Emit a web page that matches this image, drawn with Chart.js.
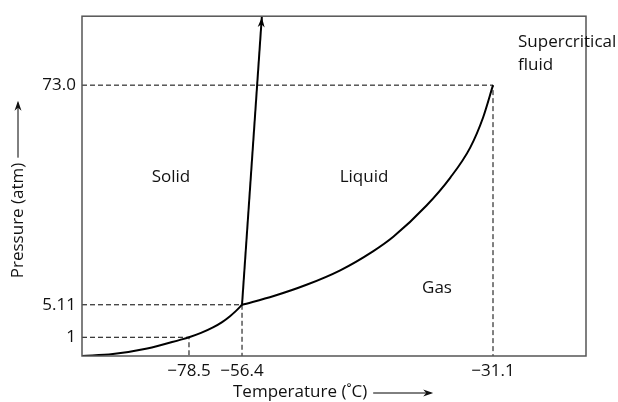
<!DOCTYPE html>
<html>
<head>
<meta charset="utf-8">
<title>Phase diagram of CO₂</title>
<script src="https://cdn.jsdelivr.net/npm/chart.js@4.4.1/dist/chart.umd.min.js"></script>
<style>
  html, body { margin: 0; padding: 0; background: #fff; }
  #wrap { width: 618px; height: 402px; }
</style>
</head>
<body>
<div id="wrap"><canvas id="phase"></canvas></div>
<script>
// axis ends (schematic diagram, not to scale)
const tempRange = [-100, -20];
const pressureRange = [0, 95];

const tempTicks = [-78.5, -56.4, -31.1];
const tempTickLabels = ['−78.5', '−56.4', '−31.1'];
const pressureTicks = [1, 5.11, 73.0];
const pressureTickLabels = ['1', '5.11', '73.0'];

// solid / gas boundary
const sublimationTemp = [-100, -93.8, -86.9, -80.3, -78.5, -73.5, -68.5, -64.7, -61.4, -58.9, -56.4];
const sublimationPressure = [0, 0.105, 0.4, 0.863, 1, 1.55, 2.25, 2.92, 3.67, 4.34, 5.11];

// solid / liquid boundary
const meltingTemp = [-56.4, -54.4];
const meltingPressure = [5.11, 95];

// liquid / gas boundary up to the critical point
const vaporTemp = [-56.4, -53.2, -49.9, -46.5, -43.2, -41.15, -37.8, -35.4, -33.4, -32.1, -31.1];
const vaporPressure = [5.11, 7.82, 11.29, 15.77, 21.64, 26.15, 35.8, 44.44, 53.7, 63.01, 73.0];

// the axis is stretched piecewise: each tick value sits at a fixed fraction of the axis
const axisStops = {
  x: { values: [tempRange[0], ...tempTicks, tempRange[1]], at: [0, 0.2123, 0.3175, 0.8155, 1] },
  y: { values: [pressureRange[0], ...pressureTicks, pressureRange[1]], at: [0, 0.0551, 0.1507, 0.7971, 1] },
};

const lerpStops = (from, to, v) => {
  if (v <= from[0]) return to[0];
  for (let i = 1; i < from.length; i++) {
    if (v <= from[i]) {
      const t = (v - from[i - 1]) / (from[i] - from[i - 1]);
      return to[i - 1] + t * (to[i] - to[i - 1]);
    }
  }
  return to[to.length - 1];
};

class PiecewiseScale extends Chart.LinearScale {
  getPixelForValue(value) {
    const s = axisStops[this.id];
    return this.getPixelForDecimal(lerpStops(s.values, s.at, value));
  }
  getValueForPixel(pixel) {
    const s = axisStops[this.id];
    return lerpStops(s.at, s.values, this.getDecimalForPixel(pixel));
  }
}
PiecewiseScale.id = 'piecewise';
PiecewiseScale.defaults = {};
Chart.register(PiecewiseScale);

const toPoints = (xs, ys) => xs.map((x, i) => ({ x, y: ys[i] }));

const FONT = '"Open Sans", "Noto Sans", sans-serif';
const INK = '#000';

const curve = (xs, ys) => ({
  data: toPoints(xs, ys),
  borderColor: INK,
  borderWidth: 2,
  pointRadius: 0,
  cubicInterpolationMode: 'monotone',
  order: 0,
});

const guide = (pts) => ({
  data: pts,
  borderColor: INK,
  borderWidth: 1,
  borderDash: [5, 3],
  pointRadius: 0,
  tension: 0,
  order: 1,
});

const arrowHead = (ctx, x0, y0, x1, y1, len, half) => {
  const a = Math.atan2(y1 - y0, x1 - x0);
  ctx.save();
  ctx.translate(x1, y1);
  ctx.rotate(a);
  ctx.beginPath();
  ctx.moveTo(0, 0);
  ctx.lineTo(-len, -half);
  ctx.lineTo(-len * 0.7, 0);
  ctx.lineTo(-len, half);
  ctx.closePath();
  ctx.fill();
  ctx.restore();
};

const diagramDecor = {
  id: 'diagramDecor',
  afterDraw(chart) {
    const { ctx, chartArea: a, scales } = chart;
    ctx.save();

    // frame
    ctx.strokeStyle = '#555';
    ctx.lineWidth = 1.5;
    ctx.strokeRect(a.left, a.top, a.right - a.left, a.bottom - a.top);

    // arrow on the melting line
    ctx.fillStyle = INK;
    const n = meltingTemp.length - 1;
    arrowHead(ctx,
      scales.x.getPixelForValue(meltingTemp[n - 1]), scales.y.getPixelForValue(meltingPressure[n - 1]),
      scales.x.getPixelForValue(meltingTemp[n]), scales.y.getPixelForValue(meltingPressure[n]) + 1,
      10, 3.5);

    // region names
    ctx.font = `17px ${FONT}`;
    ctx.fillStyle = '#111';
    ctx.textBaseline = 'middle';
    ctx.textAlign = 'center';
    ctx.fillText('Solid', a.left + 89, a.top + 161);
    ctx.fillText('Liquid', a.left + 282, a.top + 161);
    ctx.fillText('Gas', a.left + 355, a.top + 272);
    ctx.textAlign = 'left';
    ctx.fillText('Supercritical', a.left + 436, a.top + 26);
    ctx.fillText('fluid', a.left + 436, a.top + 49);

    // axis titles with arrows
    ctx.strokeStyle = INK;
    ctx.lineWidth = 1;
    ctx.textAlign = 'left';
    const xt = 'Temperature (˚C)';
    const xy = a.bottom + 36;
    const xs = a.left + 151;
    ctx.fillText(xt, xs, xy);
    const xw = ctx.measureText(xt).width;
    ctx.beginPath();
    ctx.moveTo(xs + xw + 6, xy + 1);
    ctx.lineTo(xs + xw + 64, xy + 1);
    ctx.stroke();
    arrowHead(ctx, xs + xw + 6, xy + 1, xs + xw + 66, xy + 1, 10, 3.5);

    ctx.save();
    ctx.translate(18, a.top + 262);
    ctx.rotate(-Math.PI / 2);
    const yt = 'Pressure (atm)';
    ctx.fillText(yt, 0, 0);
    const yw = ctx.measureText(yt).width;
    ctx.beginPath();
    ctx.moveTo(yw + 5, 0);
    ctx.lineTo(yw + 60, 0);
    ctx.stroke();
    arrowHead(ctx, yw + 5, 0, yw + 62, 0, 10, 3.5);
    ctx.restore();

    ctx.restore();
  },
};

new Chart(document.getElementById('phase'), {
  type: 'line',
  data: {
    datasets: [
      curve(sublimationTemp, sublimationPressure),
      { ...curve(meltingTemp, meltingPressure), cubicInterpolationMode: 'default', tension: 0 },
      curve(vaporTemp, vaporPressure),
      guide([{ x: tempRange[0], y: pressureTicks[0] }, { x: tempTicks[0], y: pressureTicks[0] }, { x: tempTicks[0], y: pressureRange[0] }]),
      guide([{ x: tempRange[0], y: pressureTicks[1] }, { x: tempTicks[1], y: pressureTicks[1] }, { x: tempTicks[1], y: pressureRange[0] }]),
      guide([{ x: tempRange[0], y: pressureTicks[2] }, { x: tempTicks[2], y: pressureTicks[2] }, { x: tempTicks[2], y: pressureRange[0] }]),
    ],
  },
  options: {
    responsive: true,
    maintainAspectRatio: false,
    animation: false,
    events: [],
    layout: { padding: { left: 0, top: 11, right: 32, bottom: 0 } },
    plugins: { legend: { display: false }, tooltip: { enabled: false } },
    scales: {
      x: {
        type: 'piecewise',
        min: tempRange[0],
        max: tempRange[1],
        grid: { display: false, drawTicks: false },
        border: { display: false },
        afterBuildTicks: (s) => { s.ticks = tempTicks.map((value) => ({ value })); },
        afterFit: (s) => { s.height = 46; },
        ticks: {
          autoSkip: false,
          maxRotation: 0,
          padding: 5,
          color: '#111',
          font: { family: FONT, size: 17 },
          callback: (v, i) => tempTickLabels[i],
        },
      },
      y: {
        type: 'piecewise',
        min: pressureRange[0],
        max: pressureRange[1],
        grid: { display: false, drawTicks: false },
        border: { display: false },
        afterBuildTicks: (s) => { s.ticks = pressureTicks.map((value) => ({ value })); },
        afterFit: (s) => { s.width = 82; },
        ticks: {
          autoSkip: false,
          padding: 6,
          color: '#111',
          font: { family: FONT, size: 17 },
          callback: (v, i) => pressureTickLabels[i],
        },
      },
    },
  },
  plugins: [diagramDecor],
});
</script>
</body>
</html>
